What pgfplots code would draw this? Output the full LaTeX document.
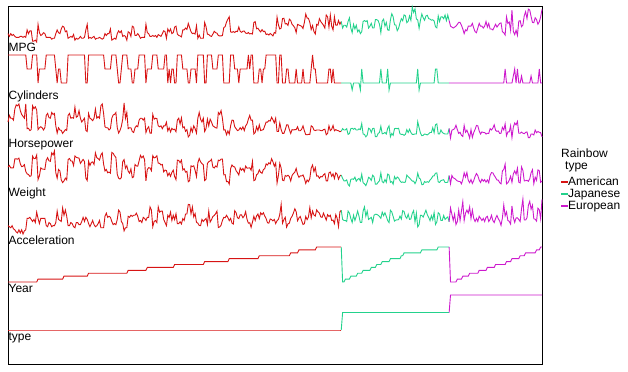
\documentclass[border=0pt]{standalone}
\usepackage{pgfplots}
\usepackage{pgfplotstable}
\pgfplotsset{compat=1.18}
\usepackage{fontspec}
\setmainfont{Liberation Sans}
\definecolor{am}{RGB}{215,20,20}
\definecolor{ja}{RGB}{35,210,140}
\definecolor{eu}{RGB}{205,25,205}
\newcommand\lab{\fontsize{12bp}{14bp}\selectfont}
% American (rows 0-244), Japanese (245-323), European (324-391); ty: 0=American, 1=Japanese, 2=European
\pgfplotstableread{
mpg cyl hp wt acc yr ty
18 8 130 3504 12.0 70 0
15 8 165 3693 11.5 70 0
18 8 150 3436 11.0 70 0
16 8 150 3433 12.0 70 0
17 8 140 3449 10.5 70 0
15 8 198 4341 10.0 70 0
14 8 220 4354 9.0 70 0
14 8 215 4312 8.5 70 0
14 8 225 4425 10.0 70 0
15 8 190 3850 8.5 70 0
15 8 170 3563 10.0 70 0
14 8 160 3609 8.0 70 0
15 8 150 3761 9.5 70 0
14 8 225 3086 10.0 70 0
22 6 95 2833 15.5 70 0
18 6 97 2774 15.5 70 0
21 6 85 2587 16.0 70 0
21 6 90 2648 15.0 70 0
10 8 215 4615 14.0 70 0
10 8 200 4376 15.0 70 0
11 8 210 4382 13.5 70 0
9 8 193 4732 18.5 70 0
28 4 90 2264 15.5 71 0
19 6 100 2634 13.0 71 0
16 6 105 3439 15.5 71 0
17 6 100 3329 15.5 71 0
19 6 88 3302 15.5 71 0
18 6 100 3288 15.5 71 0
14 8 165 4209 12.0 71 0
14 8 175 4464 11.5 71 0
14 8 153 4154 13.5 71 0
14 8 150 4096 13.0 71 0
12 8 180 4955 11.5 71 0
13 8 170 4746 12.0 71 0
13 8 175 5140 12.0 71 0
18 6 110 2962 13.5 71 0
22 4 72 2408 19.0 71 0
19 6 100 3282 15.0 71 0
18 6 88 3139 14.5 71 0
23 4 86 2220 14.0 71 0
26 4 70 1955 20.5 71 0
25 4 80 2126 17.0 72 0
20 4 90 2408 19.5 72 0
21 4 86 2226 16.5 72 0
13 8 165 4274 12.0 72 0
14 8 175 4385 12.0 72 0
15 8 150 4135 13.5 72 0
14 8 153 4129 13.0 72 0
17 8 150 3672 11.5 72 0
11 8 208 4633 11.0 72 0
13 8 155 4502 13.5 72 0
12 8 160 4456 13.5 72 0
13 8 190 4422 12.5 72 0
15 8 150 3892 12.5 72 0
13 8 130 4098 14.0 72 0
13 8 140 4294 16.0 72 0
14 8 150 4077 14.0 72 0
22 4 86 2395 16.0 72 0
28 4 80 2164 15.0 72 0
13 8 175 4100 13.0 73 0
14 8 150 3672 11.5 73 0
13 8 145 3988 13.0 73 0
14 8 137 4042 14.5 73 0
15 8 150 3777 12.5 73 0
12 8 198 4952 11.5 73 0
13 8 150 4464 12.0 73 0
13 8 158 4363 13.0 73 0
14 8 150 4237 14.5 73 0
13 8 215 4735 11.0 73 0
12 8 225 4951 11.0 73 0
13 8 175 3821 11.0 73 0
18 6 105 3121 16.5 73 0
16 6 100 3278 18.0 73 0
18 6 100 2945 16.0 73 0
18 6 88 3021 16.5 73 0
23 6 95 2904 16.0 73 0
11 8 150 4997 14.0 73 0
12 8 167 4906 12.5 73 0
13 8 170 4654 13.0 73 0
12 8 180 4499 12.5 73 0
18 6 100 2789 15.0 73 0
21 4 72 2401 19.5 73 0
19 4 85 2310 18.5 73 0
21 6 107 2472 14.0 73 0
15 8 145 4082 13.0 73 0
16 8 230 4278 9.5 73 0
15 8 150 3399 11.0 73 0
11 8 180 3664 11.0 73 0
20 6 95 3102 16.5 74 0
19 6 100 2901 16.0 74 0
15 6 100 3336 17.0 74 0
26 4 80 2451 16.5 74 0
25 4 75 2542 17.0 74 0
16 6 100 3781 17.0 74 0
16 6 110 3632 18.0 74 0
18 6 105 3613 16.5 74 0
16 8 140 4141 14.0 74 0
13 8 150 4699 14.5 74 0
14 8 150 4457 13.5 74 0
14 8 140 4638 16.0 74 0
14 8 150 4257 15.5 74 0
28 4 75 2125 14.5 74 0
19 6 95 3264 16.0 75 0
18 6 105 3459 16.0 75 0
15 6 72 3432 21.0 75 0
15 6 72 3158 19.5 75 0
16 8 170 4668 11.5 75 0
15 8 145 4440 14.0 75 0
16 8 150 4498 14.5 75 0
14 8 148 4657 13.5 75 0
17 6 110 3907 21.0 75 0
16 6 105 3897 18.5 75 0
15 6 110 3730 19.0 75 0
18 6 95 3785 19.0 75 0
21 6 110 3039 15.0 75 0
20 8 110 3221 13.5 75 0
13 8 129 3169 12.0 75 0
23 4 83 2639 17.0 75 0
20 6 100 2914 16.0 75 0
23 4 78 2592 18.5 75 0
18 6 97 2984 14.5 75 0
19 6 90 3211 17.0 75 0
25 4 92 2572 14.9 76 0
26 4 79 2255 17.7 76 0
17.5 8 140 4215 13.0 76 0
16 8 150 4190 13.0 76 0
15.5 8 120 3962 13.9 76 0
14.5 8 152 4215 12.8 76 0
22 6 100 3233 15.4 76 0
22 6 105 3353 14.5 76 0
24 6 81 3012 17.6 76 0
22.5 6 90 3085 17.6 76 0
29 4 52 2035 22.2 76 0
24.5 4 60 2164 22.1 76 0
20 6 100 3651 17.7 76 0
18 6 78 3574 21.0 76 0
18.5 6 110 3645 16.2 76 0
17.5 6 95 3193 17.8 76 0
26.5 4 72 2565 13.6 76 0
13 8 150 3940 13.2 76 0
16.5 8 180 4380 12.1 76 0
13 8 145 4055 12.0 76 0
13 8 130 3870 15.0 76 0
13 8 150 3755 14.0 76 0
30 4 80 2155 14.8 77 0
25.5 4 96 2300 15.5 77 0
17.5 8 145 3880 12.5 77 0
17 8 110 4060 19.0 77 0
15.5 8 145 4140 13.7 77 0
15 8 130 4295 14.9 77 0
17.5 6 110 3520 16.4 77 0
20.5 6 105 3425 16.9 77 0
19 6 100 3630 17.7 77 0
18.5 6 98 3525 19.0 77 0
16 8 180 4220 11.1 77 0
15.5 8 170 4165 11.4 77 0
15.5 8 190 4325 12.2 77 0
16 8 149 4335 14.5 77 0
24.5 4 88 2740 16.0 77 0
25.5 4 89 2755 15.8 77 0
30.5 4 63 2051 17.0 77 0
33.5 4 83 2075 15.9 77 0
36.1 4 66 1800 14.4 78 0
19.9 8 110 3365 15.5 78 0
19.4 8 140 3735 13.2 78 0
20.2 8 139 3570 12.8 78 0
19.2 6 105 3535 19.2 78 0
20.5 6 95 3155 18.2 78 0
20.2 6 85 2965 15.8 78 0
25.1 4 88 2720 15.4 78 0
20.5 6 100 3430 17.2 78 0
19.4 6 90 3210 17.2 78 0
20.6 6 105 3380 15.8 78 0
20.8 6 85 3070 16.7 78 0
18.6 6 110 3620 18.7 78 0
18.1 6 120 3410 15.1 78 0
19.2 8 145 3425 13.2 78 0
17.7 6 165 3445 13.4 78 0
18.1 8 139 3205 11.2 78 0
17.5 8 140 4080 13.7 78 0
30 4 68 2155 16.5 78 0
30.9 4 75 2230 14.5 78 0
23.2 4 105 2745 16.7 78 0
23.8 4 85 2855 17.6 78 0
21.5 6 115 3245 15.4 79 0
19.8 6 85 2990 18.2 79 0
22.3 4 88 2890 17.3 79 0
20.2 6 90 3265 18.2 79 0
20.6 6 110 3360 16.6 79 0
17 8 130 3840 15.4 79 0
17.6 8 129 3725 13.4 79 0
16.5 8 138 3955 13.2 79 0
18.2 8 135 3830 15.2 79 0
16.9 8 155 4360 14.9 79 0
15.5 8 142 4054 14.3 79 0
19.2 8 125 3605 15.0 79 0
18.5 8 150 3940 13.0 79 0
35.7 4 80 1915 14.4 79 0
27.4 4 80 2670 15.0 79 0
23 8 125 3900 17.4 79 0
23.9 8 90 3420 22.2 79 0
34.2 4 70 2200 13.2 79 0
34.5 4 70 2150 14.9 79 0
28.4 4 90 2670 16.0 79 0
28.8 6 115 2595 11.3 79 0
26.8 6 115 2700 12.9 79 0
33.5 4 90 2556 13.2 79 0
32.1 4 70 2120 15.5 80 0
28 4 90 2678 16.5 80 0
26.4 4 88 2870 18.1 80 0
24.3 4 90 3003 20.1 80 0
19.1 6 90 3381 18.7 80 0
27.9 4 105 2800 14.4 80 0
27.2 4 84 2490 15.7 81 0
26.6 4 84 2635 16.4 81 0
25.8 4 92 2620 14.4 81 0
23.5 6 110 2725 12.6 81 0
30 4 84 2385 12.9 81 0
39 4 64 1875 16.4 81 0
34.7 4 63 2215 14.9 81 0
34.4 4 65 2045 16.2 81 0
29.9 4 65 2380 20.7 81 0
22.4 6 110 3415 15.8 81 0
26.6 8 105 3725 19.0 81 0
20.2 6 88 3060 17.1 81 0
17.6 6 85 3465 16.6 81 0
28 4 88 2605 19.6 82 0
27 4 88 2640 18.6 82 0
34 4 88 2395 18.0 82 0
31 4 85 2575 16.2 82 0
29 4 84 2525 16.0 82 0
27 4 90 2735 18.0 82 0
24 4 92 2865 16.4 82 0
38 4 63 2125 14.7 82 0
36 4 70 2125 17.3 82 0
25 6 110 2945 16.4 82 0
38 6 85 3015 17.0 82 0
26 4 92 2585 14.5 82 0
22 6 112 2835 14.7 82 0
36 4 84 2370 13.0 82 0
27 4 90 2950 17.3 82 0
27 4 86 2790 15.6 82 0
32 4 84 2295 11.6 82 0
28 4 79 2625 18.6 82 0
31 4 82 2720 19.4 82 0
24 4 95 2372 15.0 70 1
27 4 88 2130 14.5 70 1
27 4 88 2130 14.5 71 1
25 4 95 2228 14.0 71 1
31 4 65 1773 19.0 71 1
35 4 69 1613 18.0 71 1
24 4 95 2278 15.5 72 1
19 3 97 2330 13.5 72 1
28 4 92 2288 17.0 72 1
23 4 97 2506 14.5 72 1
27 4 88 2100 16.5 72 1
20 4 88 2279 19.0 73 1
22 4 94 2379 16.5 73 1
18 3 90 2124 13.5 73 1
20 6 122 2807 13.5 73 1
31 4 67 1950 19.0 74 1
32 4 65 1836 21.0 74 1
31 4 52 1649 16.5 74 1
32 4 61 2003 19.0 74 1
24 4 97 2489 15.0 74 1
26 4 93 2391 15.5 74 1
29 4 75 2171 16.0 75 1
24 4 96 2702 13.5 75 1
24 4 97 2545 17.0 75 1
33 4 53 1795 17.5 75 1
33 4 53 1795 17.4 76 1
32 4 70 1990 17.0 76 1
28 4 75 2155 16.4 76 1
19 6 108 2930 15.5 76 1
31.5 4 68 2045 18.5 77 1
33.5 4 70 1945 16.8 77 1
26 4 75 2265 18.2 77 1
30 4 67 1985 16.4 77 1
22 6 97 2815 14.5 77 1
21.5 3 110 2720 13.5 77 1
32.8 4 52 1985 19.4 78 1
39.4 4 70 2070 18.6 78 1
36.1 4 60 1800 16.4 78 1
27.5 4 95 2560 14.2 78 1
27.2 4 97 2300 14.7 78 1
21.1 4 95 2515 14.8 78 1
23.9 4 97 2405 14.9 78 1
29.5 4 68 2135 16.6 78 1
34.1 4 65 1975 15.2 79 1
31.8 4 65 2020 19.2 79 1
38.1 4 60 1968 18.8 80 1
37.2 4 65 2019 16.4 80 1
29.8 4 90 2711 15.5 80 1
31.3 4 75 2542 17.5 80 1
37 4 92 2434 15.0 80 1
32.2 4 75 2265 15.2 80 1
46.6 4 65 2110 17.9 80 1
40.8 4 65 2110 19.2 80 1
44.6 4 67 1850 13.8 80 1
33.8 4 67 2145 18.0 80 1
32.7 6 132 2910 11.4 80 1
23.7 3 100 2420 12.5 80 1
32.4 4 72 2290 17.0 80 1
39.1 4 58 1755 16.9 81 1
35.1 4 60 1760 16.1 81 1
32.3 4 67 2065 17.8 81 1
37 4 65 1975 19.4 81 1
37.7 4 62 2050 17.3 81 1
34.1 4 68 1985 16.0 81 1
33.7 4 75 2210 14.4 81 1
32.4 4 75 2350 16.8 81 1
32.9 4 100 2615 14.8 81 1
31.6 4 74 2635 18.3 81 1
25.4 6 116 2900 12.6 81 1
24.2 6 120 2930 13.8 81 1
37 4 68 2025 18.2 82 1
31 4 68 1970 17.6 82 1
36 4 88 2160 14.5 82 1
36 4 75 2205 14.5 82 1
34 4 70 2245 16.9 82 1
38 4 67 1965 15.0 82 1
32 4 67 1965 15.7 82 1
38 4 67 1995 16.2 82 1
32 4 96 2665 13.9 82 1
26 4 46 1835 20.5 70 2
25 4 87 2672 17.5 70 2
24 4 90 2430 14.5 70 2
25 4 95 2375 17.5 70 2
26 4 113 2234 12.5 70 2
28 4 90 2123 14.0 71 2
30 4 70 2074 19.5 71 2
30 4 76 2065 14.5 71 2
27 4 60 1834 19.0 71 2
23 4 54 2254 23.5 72 2
18 4 112 2933 14.5 72 2
22 4 76 2511 18.0 72 2
21 4 87 2979 19.5 72 2
26 4 69 2189 18.0 72 2
26 4 46 1950 21.0 73 2
26 4 90 2265 15.5 73 2
29 4 49 1867 19.5 73 2
24 4 75 2158 15.5 73 2
20 4 91 2582 14.0 73 2
19 4 112 2868 15.5 73 2
24 4 110 2660 14.0 73 2
29 4 83 2219 16.5 74 2
26 4 67 1963 15.5 74 2
26 4 78 2300 14.5 74 2
24 4 75 2108 15.5 74 2
26 4 75 2246 14.0 74 2
31 4 67 2000 16.0 74 2
25 4 71 2223 16.5 75 2
29 4 70 1937 14.0 75 2
23 4 95 2694 15.0 75 2
23 4 88 2957 17.0 75 2
22 4 98 2945 14.5 75 2
25 4 115 2671 13.5 75 2
28 4 86 2464 15.5 76 2
25 4 81 2220 16.9 76 2
27 4 83 2202 15.3 76 2
29 4 70 1937 14.2 76 2
29.5 4 71 1825 12.2 76 2
20 4 102 3150 15.7 76 2
19 4 88 3270 21.9 76 2
16.5 6 120 3820 16.7 76 2
36 4 58 1825 18.6 77 2
29 4 78 1940 14.5 77 2
30.5 4 78 2190 14.1 77 2
21.5 4 110 2600 12.8 77 2
43.1 4 48 1985 21.5 78 2
20.3 5 103 2830 15.9 78 2
17 6 125 3140 13.6 78 2
21.6 4 115 2795 15.7 78 2
16.2 6 133 3410 15.8 78 2
31.5 4 71 1990 14.9 78 2
31.9 4 71 1925 14.0 79 2
25.4 5 77 3530 20.1 79 2
27.2 4 71 3190 24.8 79 2
37.3 4 69 2130 14.7 79 2
41.5 4 76 2144 14.7 80 2
34.3 4 78 2188 15.8 80 2
44.3 4 48 2085 21.7 80 2
43.4 4 48 2335 23.7 80 2
36.4 5 67 2950 19.9 80 2
30 4 67 3250 21.8 80 2
29.8 4 62 1845 15.3 80 2
35 4 88 2500 15.1 80 2
33 4 74 2190 14.2 81 2
28.1 4 80 3230 20.4 81 2
30.7 6 76 3160 19.6 81 2
36 4 74 1980 15.3 82 2
44 4 52 2130 24.6 82 2
}\data
% one band: column, min, max, band index (0 = top)
\newcommand\band[4]{%
 \addplot[am] table[x expr=\coordindex, y expr={322-48*#4+35*(\thisrow{#1}-#2)/(#3-#2)}, restrict x to domain=0:244]{\data};
 \addplot[ja] table[x expr=\coordindex, y expr={322-48*#4+35*(\thisrow{#1}-#2)/(#3-#2)}, restrict x to domain=244:323]{\data};
 \addplot[eu] table[x expr=\coordindex, y expr={322-48*#4+35*(\thisrow{#1}-#2)/(#3-#2)}, restrict x to domain=323:391]{\data};
}
\begin{document}
\begin{tikzpicture}[x=1bp,y=1bp]
\path (0,0) rectangle (628,371);
\begin{axis}[at={(8bp,7bp)}, anchor=south west, scale only axis,
  width=534bp, height=357bp, xmin=0, xmax=391, ymin=0, ymax=357,
  ticks=none, axis line style={line width=1bp, black},
  every axis plot/.append style={line width=0.9bp, no markers},
  clip=false]
 \band{mpg}{9}{46.6}{0}
 \band{cyl}{3}{8}{1}
 \band{hp}{46}{230}{2}
 \band{wt}{1613}{5140}{3}
 \band{acc}{8}{24.8}{4}
 \band{yr}{70}{82}{5}
 \band{ty}{0}{2}{6}
 \node[anchor=base west, inner sep=0pt, font=\lab] at (axis cs:0.3,312) {MPG};
 \node[anchor=base west, inner sep=0pt, font=\lab] at (axis cs:0.3,264) {Cylinders};
 \node[anchor=base west, inner sep=0pt, font=\lab] at (axis cs:0.3,216) {Horsepower};
 \node[anchor=base west, inner sep=0pt, font=\lab] at (axis cs:0.3,168) {Weight};
 \node[anchor=base west, inner sep=0pt, font=\lab] at (axis cs:0.3,120) {Acceleration};
 \node[anchor=base west, inner sep=0pt, font=\lab] at (axis cs:0.3,72) {Year};
 \node[anchor=base west, inner sep=0pt, font=\lab] at (axis cs:0.3,24) {type};
\end{axis}
% legend
\node[anchor=base west, inner sep=0pt, font=\lab] at (561,214) {Rainbow};
\node[anchor=base west, inner sep=0pt, font=\lab] at (565,202) {type};
\fill[am] (561,188.5) rectangle (567.5,190.5);
\node[anchor=base west, inner sep=0pt, font=\lab] at (568,186) {American};
\fill[ja] (561,176.3) rectangle (567.5,178.3);
\node[anchor=base west, inner sep=0pt, font=\lab] at (568,174) {Japanese};
\fill[eu] (561,164) rectangle (567.5,166);
\node[anchor=base west, inner sep=0pt, font=\lab] at (568,162) {European};
\end{tikzpicture}
\end{document}
